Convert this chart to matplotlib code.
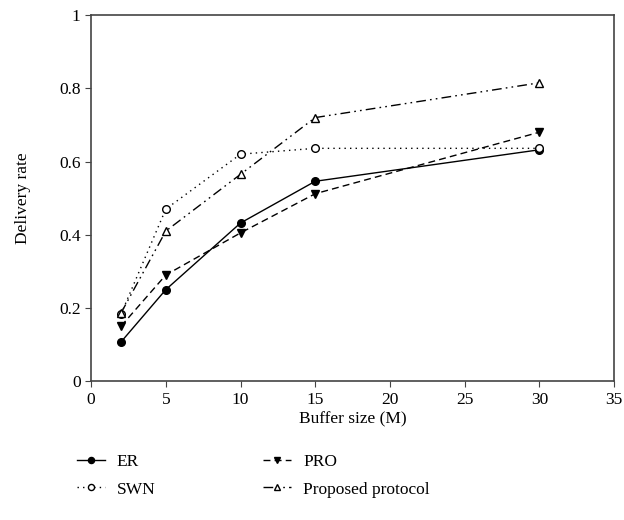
import matplotlib.pyplot as plt
import numpy as np

plt.rcParams['font.family'] = ['Liberation Serif', 'DejaVu Serif']

# Datos
buffer_size = [2, 5, 10, 15, 30]
er = [0.107, 0.25, 0.432, 0.546, 0.632]
swn = [0.183, 0.47, 0.62, 0.636, 0.636]
pro = [0.15, 0.29, 0.405, 0.512, 0.68]
proposed = [0.186, 0.41, 0.565, 0.72, 0.815]

fig = plt.figure(figsize=(6.24, 5.2), dpi=100)
ax = fig.add_axes([0.146, 0.267, 0.838, 0.704])

ax.plot(buffer_size, er, '-', color='black', lw=1, marker='o', ms=5.5,
        mfc='black', label='ER')
ax.plot(buffer_size, swn, color='black', lw=1, ls=(0, (1, 3)), marker='o', ms=5.5,
        mfc='white', label='SWN')
ax.plot(buffer_size, pro, color='black', lw=1, ls=(0, (5, 3)), marker='v', ms=6,
        mfc='black', label='PRO')
ax.plot(buffer_size, proposed, color='black', lw=1, ls=(0, (7, 3, 1.2, 3, 1.2, 3)),
        marker='^', ms=6, mfc='white', label='Proposed protocol')

ax.set_xlim(0, 35)
ax.set_ylim(0, 1)
ax.set_xticks(np.arange(0, 36, 5))
ax.set_yticks([0, 0.2, 0.4, 0.6, 0.8, 1])
ax.set_yticklabels(['0', '0.2', '0.4', '0.6', '0.8', '1'])
ax.tick_params(direction='out', length=4, labelsize=12.5, color='#444444')
for s in ax.spines.values():
    s.set_color('#444444')
    s.set_linewidth(1.2)

ax.set_xlabel('Buffer size (M)', fontsize=12.5, labelpad=3)
ax.set_ylabel('Delivery rate', fontsize=12.5, labelpad=20)

fig.legend(loc='upper left', bbox_to_anchor=(0.123, 0.127), ncol=2,
           frameon=False, fontsize=12.5, handlelength=1.6, handletextpad=0.7,
           columnspacing=6.2, labelspacing=0.65, markerscale=0.8,
           borderpad=0, borderaxespad=0)

plt.savefig('out.png', dpi=100)
